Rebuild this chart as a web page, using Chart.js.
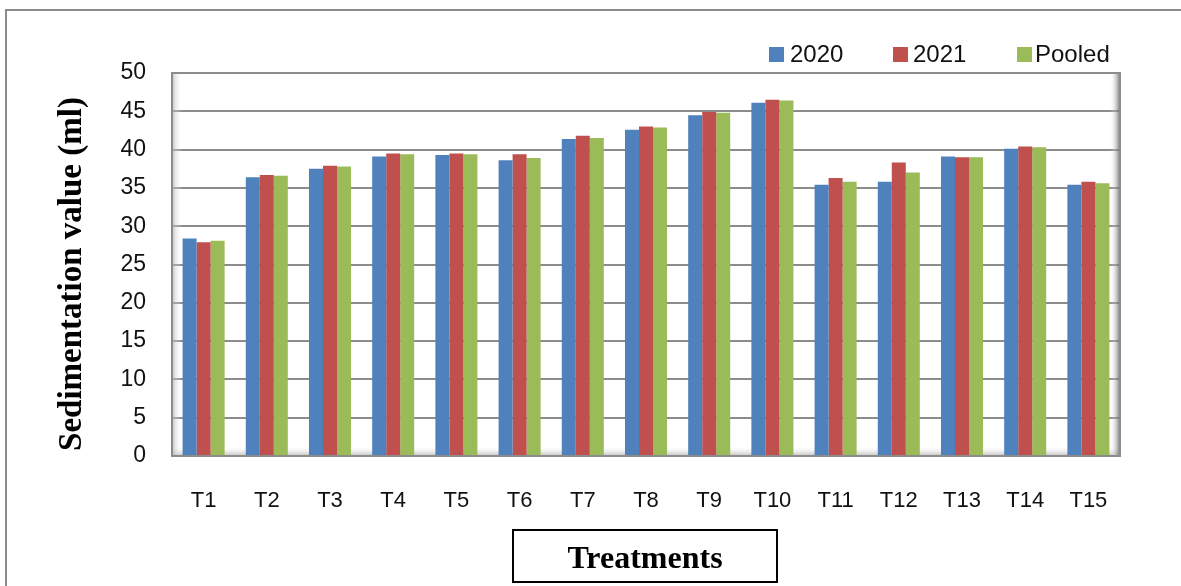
<!DOCTYPE html>
<html lang="en">
<head>
  <meta charset="UTF-8" />
  <title>Sedimentation value</title>
  <style>
    body { margin: 0; background: #fff; font-family: "Liberation Sans", Arial, sans-serif; }
    #wrap { position: relative; width: 1181px; height: 586px; overflow: hidden; }
    #frame { position: absolute; left: 5px; top: 9px; width: 1190px; height: 600px;
             border-top: 2px solid #8c8c8c; border-left: 2px solid #8c8c8c; }
    canvas { position: absolute; left: 0; top: 0; }
    .leg-box { position: absolute; width: 15px; height: 15px; top: 47px; }
    .leg-txt { position: absolute; top: 40px; font-size: 24px; color: #111; }
    #xtitle { position: absolute; left: 512px; top: 529px; width: 262px; height: 47px; padding-top: 3px;
              border: 2px solid #000; font: bold 32px "Liberation Serif", "Times New Roman", serif;
              text-align: center; line-height: 47px; color: #000; }
  </style>
</head>
<body>
<div id="wrap">
  <div id="frame"></div>
  <canvas id="sedChart" width="1181" height="586"></canvas>
  <div id="legend"></div>
  <div id="xtitle">Treatments</div>
</div>

<script src="https://cdn.jsdelivr.net/npm/chart.js"></script>
<script>
  // 处理
  const treatments = ['T1','T2','T3','T4','T5','T6','T7','T8','T9','T10','T11','T12','T13','T14','T15'];

  // sedimentation value (ml)
  const y2020   = [28.4, 36.4, 37.5, 39.1, 39.3, 38.6, 41.4, 42.6, 44.5, 46.1, 35.4, 35.8, 39.1, 40.1, 35.4];
  const y2021   = [27.9, 36.7, 37.9, 39.5, 39.5, 39.4, 41.8, 43.0, 44.9, 46.5, 36.3, 38.3, 39.0, 40.4, 35.8];
  const yPooled = [28.1, 36.6, 37.8, 39.4, 39.4, 38.9, 41.5, 42.9, 44.8, 46.4, 35.8, 37.0, 39.0, 40.3, 35.6];

  const seriesNames = ['2020', '2021', 'Pooled'];
  const colors = ['#4F81BD', '#C0504D', '#9BBB59'];

  // legend (html)
  const legBoxX = [769, 893, 1017];
  const legTxtX = [790, 913, 1035];
  const legend = document.getElementById('legend');
  seriesNames.forEach((name, i) => {
    legend.insertAdjacentHTML('beforeend',
      '<div class="leg-box" style="left:' + legBoxX[i] + 'px;background:' + colors[i] + '"></div>' +
      '<div class="leg-txt" style="left:' + legTxtX[i] + 'px">' + name + '</div>');
  });

  // y title + plot frame
  const decor = {
    id: 'decor',
    beforeDatasetsDraw(chart) {
      const { ctx, chartArea: a } = chart;
      ctx.save();
      // floor shadow
      let g = ctx.createLinearGradient(0, a.bottom - 10, 0, a.bottom);
      g.addColorStop(0, 'rgba(255,255,255,0)');
      g.addColorStop(1, 'rgba(150,150,150,0.6)');
      ctx.fillStyle = g;
      ctx.fillRect(a.left, a.bottom - 10, a.right - a.left, 10);
      // left wall
      g = ctx.createLinearGradient(a.left, 0, a.left + 10, 0);
      g.addColorStop(0, 'rgba(170,170,170,0.7)');
      g.addColorStop(1, 'rgba(255,255,255,0)');
      ctx.fillStyle = g;
      ctx.fillRect(a.left, a.top, 10, a.bottom - a.top);
      // right shadow
      g = ctx.createLinearGradient(a.right - 10, 0, a.right, 0);
      g.addColorStop(0, 'rgba(255,255,255,0)');
      g.addColorStop(1, 'rgba(90,90,90,0.8)');
      ctx.fillStyle = g;
      ctx.fillRect(a.right - 10, a.top, 10, a.bottom - a.top);
      ctx.strokeStyle = '#8c8c8c';
      ctx.lineWidth = 2;
      ctx.strokeRect(a.left, a.top, a.right - a.left, a.bottom - a.top);
      ctx.restore();
    },
    afterDraw(chart) {
      const { ctx } = chart;
      ctx.save();
      ctx.translate(72, 274);
      ctx.rotate(-Math.PI / 2);
      ctx.font = 'bold 33px "Liberation Serif", "Times New Roman", serif';
      ctx.fillStyle = '#000';
      ctx.textAlign = 'center';
      ctx.textBaseline = 'middle';
      ctx.fillText('Sedimentation value (ml)', 0, 0);
      ctx.restore();
    }
  };

  new Chart(document.getElementById('sedChart'), {
    type: 'bar',
    data: {
      labels: treatments,
      datasets: [
        { label: seriesNames[0], data: y2020,   backgroundColor: colors[0] },
        { label: seriesNames[1], data: y2021,   backgroundColor: colors[1] },
        { label: seriesNames[2], data: yPooled, backgroundColor: colors[2] }
      ]
    },
    options: {
      responsive: false,
      animation: false,
      layout: { padding: { left: 0, top: 73, right: 61, bottom: 0 } },
      datasets: { bar: { barPercentage: 1, categoryPercentage: 0.665 } },
      plugins: { legend: { display: false }, tooltip: { enabled: false } },
      scales: {
        x: {
          grid: { display: false, drawTicks: false },
          border: { display: false },
          ticks: { color: '#111', font: { family: '"Liberation Sans", Arial', size: 22 }, padding: 32, maxRotation: 0 },
          afterFit(s) { s.height = 130; }
        },
        y: {
          min: 0, max: 50,
          grid: { color: '#8c8c8c', lineWidth: 2, drawTicks: false },
          border: { display: false },
          ticks: { stepSize: 5, color: '#111', font: { family: '"Liberation Sans", Arial', size: 23 }, padding: 26 },
          afterFit(s) { s.width = 172; }
        }
      }
    },
    plugins: [decor]
  });
</script>
</body>
</html>
